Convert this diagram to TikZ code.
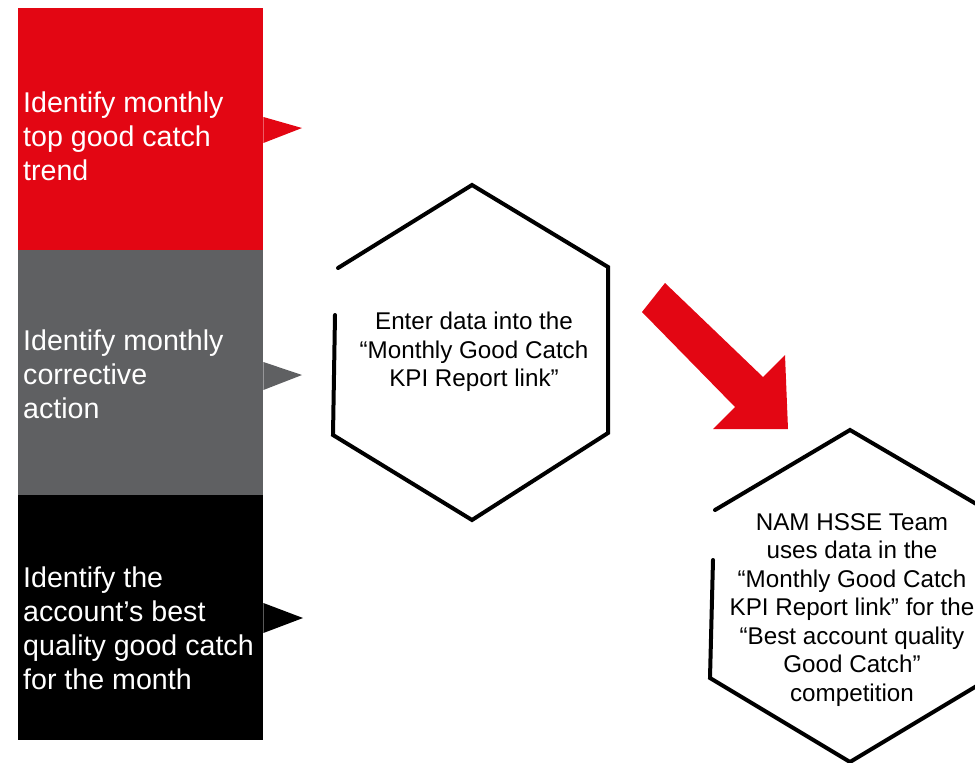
\documentclass[tikz,border=0pt]{standalone}
\usepackage{fontspec}
\setmainfont{Liberation Sans}
\definecolor{shellred}{RGB}{227,6,19}
\definecolor{slate}{RGB}{95,96,98}
\begin{document}
\begin{tikzpicture}[x=1pt,y=-1pt,
  stepbox/.style={draw=none,minimum width=245pt,minimum height=242pt,anchor=north west,inner sep=0pt},
  boxtext/.style={text=white,align=left,anchor=west,inner sep=0pt,font=\fontsize{28.6}{34}\selectfont},
  hextext/.style={text=black,align=center,inner sep=0pt,font=\fontsize{24.2}{28.5}\selectfont},
  hexline/.style={draw=black,line width=4pt,line join=miter,line cap=round}]
\useasboundingbox (0,0) rectangle (975,763);
\clip (0,0) rectangle (975,763);
% left boxes
\node[stepbox,fill=shellred] (b1) at (18,8) {};
\node[stepbox,fill=slate,minimum height=245pt] (b2) at (18,250) {};
\node[stepbox,fill=black,minimum height=245pt] (b3) at (18,495) {};
\fill[shellred] (b1.east |- 0,117) -- (302,128) -- (b1.east |- 0,143) -- cycle;
\fill[slate] (b2.east |- 0,362) -- (302,375) -- (b2.east |- 0,390) -- cycle;
\fill[black] (b3.east |- 0,603) -- (303,618) -- (b3.east |- 0,633) -- cycle;
\node[boxtext] (t1) at (23,136) {Identify monthly\\top good catch\\trend};
\node[boxtext] (t2) at (23,374) {Identify monthly\\corrective\\action};
\node[boxtext] (t3) at (23,628) {Identify the\\account’s best\\quality good catch\\for the month};
% hexagon 1
\draw[hexline] (335,315) -- (333,435) -- (472,520) -- (608,433) -- (608,267) -- (472,185) -- (338,268);
\node[hextext] (h1) at (474,352) {Enter data into the\\“Monthly Good Catch\\KPI Report link”};
% red arrow
\fill[shellred] (665,283) -- (763,377) -- (785,355) -- (788,429) -- (713,429) -- (735,407) -- (642,312) -- cycle;
% hexagon 2
\draw[hexline] (713,560) -- (710,678) -- (850,762) -- (990,678) -- (990,512) -- (850,430) -- (715,510);
\node[hextext] (h2) at (852,610) {NAM HSSE Team\\uses data in the\\“Monthly Good Catch\\KPI Report link” for the\\“Best account quality\\Good Catch”\\competition};
\end{tikzpicture}
\end{document}
